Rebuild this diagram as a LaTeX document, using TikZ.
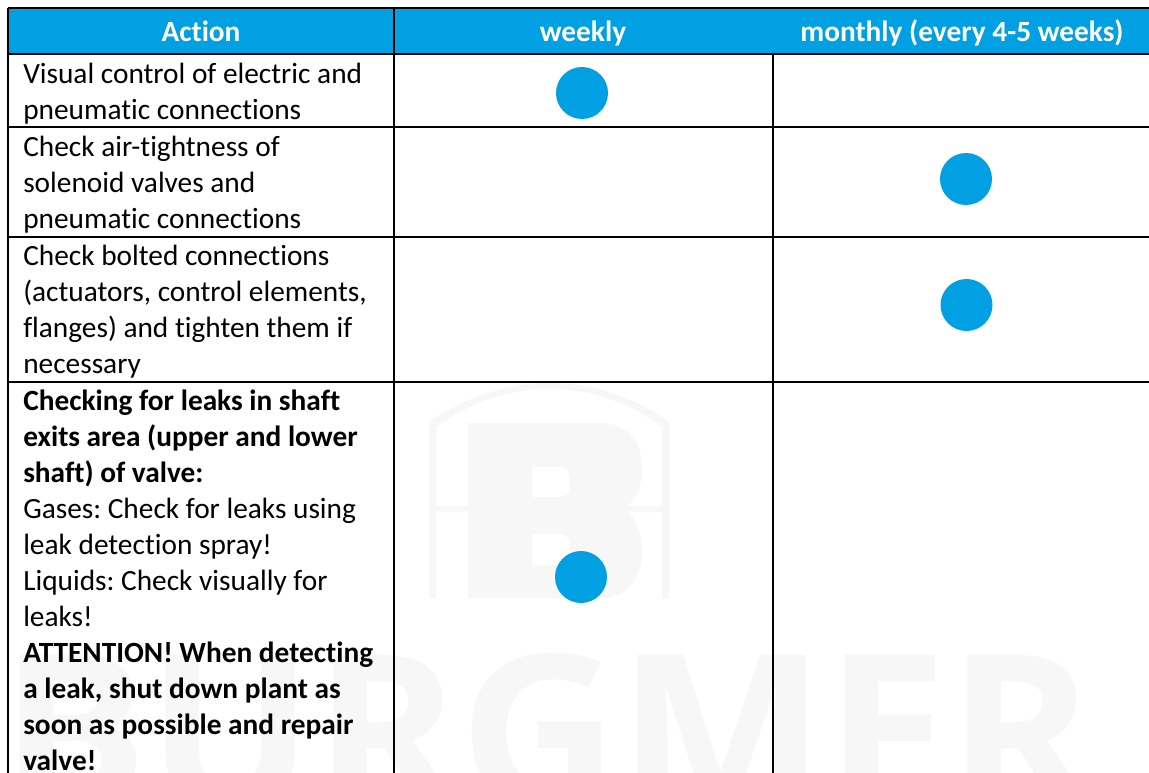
\documentclass[tikz,border=0pt]{standalone}
\usepackage{fontspec}
\setmainfont{Carlito}[RawFeature={-liga;-clig}]
\newfontfamily\markfont{Open Sans}
\definecolor{hdr}{HTML}{00A0E3}
\definecolor{wm}{HTML}{F7F7F7}
\tikzset{
 x=0.75pt,y=-0.75pt,
 cell/.style={anchor=north west,inner sep=0pt,align=left,font=\frenchspacing\fontsize{22pt}{27pt}\selectfont},
 head/.style={anchor=base,inner sep=0pt,text=white,font=\bfseries\fontsize{22pt}{27pt}\selectfont},
 dot/.style={circle,fill=hdr,inner sep=0pt,minimum size=39pt},
 rule/.style={line width=1.6pt},
 thin rule/.style={line width=1.5pt},
 mark text/.style={inner sep=0pt,anchor=base west,text=wm,transform shape,xscale=1.03,font=\markfont\bfseries\fontsize{160pt}{160pt}\selectfont},
}
\begin{document}
\begin{tikzpicture}
\useasboundingbox (0,0) rectangle (1149,773);
\clip (0,0) rectangle (1149,773);
\fill[white] (0,0) rectangle (1149,773);
% watermark
\node[mark text] (wmtext) at (0,807) {BURGMER};
\fill[wm,even odd rule] (429,598) -- (429,422) .. controls (470,395) and (510,383) .. (549,383) .. controls (590,383) and (630,395) .. (669,422) -- (669,598) -- (662,598) -- (662,512) -- (436,512) -- (436,598) -- cycle
 (436,506) -- (662,506) -- (662,427) .. controls (630,402) and (590,389) .. (549,389) .. controls (510,389) and (470,402) .. (436,427) -- cycle;
\fill[wm,even odd rule] (468,423) -- (600,423) .. controls (630,423) and (642,445) .. (642,468) .. controls (642,488) and (635,500) .. (625,508) .. controls (635,518) and (642,532) .. (642,550) .. controls (642,578) and (628,598) .. (600,598) -- (468,598) -- cycle
 (532,467) -- (562,467) .. controls (568,467) and (570,475) .. (570,482) .. controls (570,490) and (568,497) .. (560,497) -- (532,497) -- cycle
 (532,534) -- (562,534) .. controls (568,534) and (570,542) .. (570,549) .. controls (570,558) and (568,565) .. (560,565) -- (532,565) -- cycle;
\fill[hdr] (8,8) rectangle (1149,54);
\node[head] (h1) at (201,42) {Action};
\node[head] (h2) at (583,42) {weekly};
\node[head] (h3) at (962,42) {monthly (every 4-5 weeks)};
\node[cell] (c1) at (23,63) {Visual control of electric and\\pneumatic connections};
\node[cell] (c2) at (23,136) {Check air-tightness of\\solenoid valves and\\pneumatic connections};
\node[cell] (c3) at (23,245) {Check bolted connections\\(actuators, control elements,\\flanges) and tighten them if\\necessary};
\node[cell] (c4) at (23,390) {\textbf{Checking for leaks in shaft}\\\textbf{exits area (upper and lower}\\\textbf{shaft) of valve:}\\Gases: Check for leaks using\\leak detection spray!\\Liquids: Check visually for\\leaks!\\\textbf{ATTENTION! When detecting}\\\textbf{a leak, shut down plant as}\\\textbf{soon as possible and repair}\\\textbf{valve!}};
\node[dot] (d1) at (582,93) {};
\node[dot] (d2) at (966,179) {};
\node[dot] (d3) at (966.5,305) {};
\node[dot] (d4) at (581,577) {};
\draw[rule] (8,8) -- (1149,8) (8,54) -- (1149,54) (8,127) -- (1149,127) (8,237) -- (1149,237) (8,382) -- (1149,382);
\draw[rule] (8,8) -- (8,773);
\draw[thin rule] (394,8) -- (394,773) (772.5,54) -- (772.5,773);
\end{tikzpicture}
\end{document}
